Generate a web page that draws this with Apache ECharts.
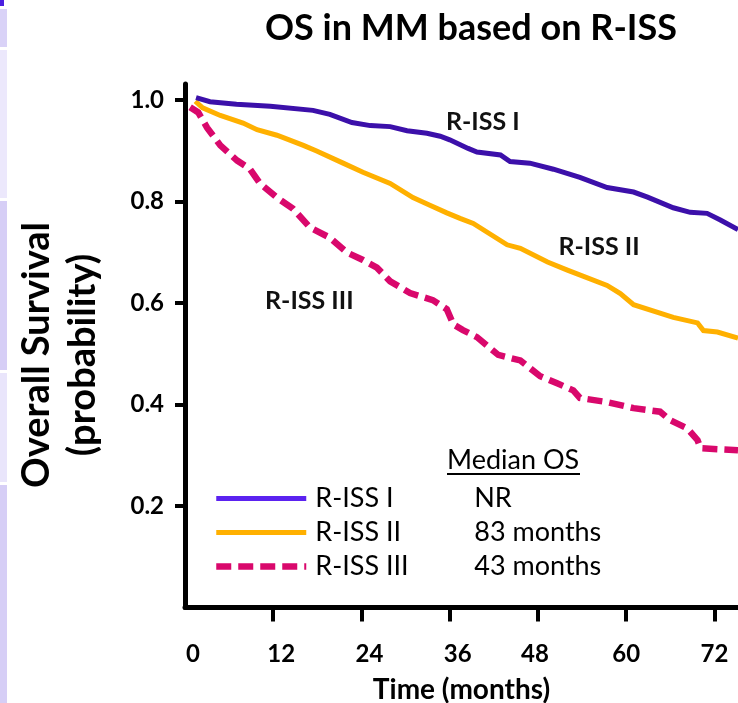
<!DOCTYPE html>
<html>
<head>
<meta charset="utf-8">
<script src="https://cdn.jsdelivr.net/npm/echarts@6/dist/echarts.min.js"></script>
<style>
  html, body { margin: 0; padding: 0; background: #fff; }
  #chart { width: 738px; height: 703px; }
</style>
</head>
<body>
<div id="chart"></div>
<script>
// Kaplan-Meier overall survival by R-ISS stage
const groups = ['R-ISS I', 'R-ISS II', 'R-ISS III'];
const medianOS = ['NR', '83 months', '43 months'];

const monthsI = [1.5, 3.4, 7, 11.6, 17.4, 19.7, 22.7, 25.2, 27.9, 30.2, 32.9, 34.7, 36, 38.5, 39.7, 42.9, 44.2, 46.9, 50.1, 53.7, 57.4, 61, 62.9, 66.4, 68.7, 71, 72.8, 75.2];
const survI  = [1.005, 0.997, 0.992, 0.988, 0.980, 0.972, 0.956, 0.950, 0.948, 0.940, 0.935, 0.929, 0.922, 0.905, 0.898, 0.892, 0.879, 0.876, 0.864, 0.848, 0.828, 0.819, 0.809, 0.788, 0.779, 0.777, 0.764, 0.745];

const monthsII = [1.4, 2.4, 4.8, 7.9, 9.8, 12.5, 16.1, 17.9, 21.5, 24.2, 27.9, 31, 33.3, 35.6, 37.4, 39.2, 43.8, 45.6, 49.3, 52, 57.4, 59.2, 61, 66.4, 69.7, 70.5, 72.4, 75.2];
const survII  = [0.998, 0.985, 0.970, 0.955, 0.942, 0.931, 0.911, 0.900, 0.876, 0.858, 0.836, 0.808, 0.793, 0.778, 0.767, 0.757, 0.715, 0.708, 0.681, 0.665, 0.635, 0.619, 0.597, 0.572, 0.561, 0.546, 0.543, 0.531];

const monthsIII = [0.7, 1.8, 3, 4.8, 7.1, 8.8, 10.2, 12.5, 14.7, 17, 19.7, 22, 24.2, 26.1, 27.9, 30.6, 33.7, 35.6, 36.5, 37.8, 39.7, 42.6, 45.6, 48.3, 50.6, 52.8, 53.7, 57.4, 61, 64.6, 66, 68.3, 69.7, 70.1, 75.2];
const survIII  = [0.986, 0.976, 0.946, 0.911, 0.881, 0.865, 0.836, 0.808, 0.786, 0.749, 0.729, 0.700, 0.685, 0.670, 0.643, 0.620, 0.606, 0.588, 0.558, 0.547, 0.533, 0.498, 0.487, 0.456, 0.442, 0.428, 0.413, 0.405, 0.393, 0.386, 0.369, 0.353, 0.330, 0.314, 0.310];

const xTicks = [0, 12, 24, 36, 48, 60, 72];
const yTicks = [0.2, 0.4, 0.6, 0.8, 1.0];

// curve label anchors [month, survival]
const labelAnchors = [[40.5, 0.957], [56.3, 0.710], [16.9, 0.604]];

const colors = ['#3c10aa', '#ffb000', '#d9086c'];
const legendColors = ['#5b22f0', '#ffb000', '#d9086c'];
const lineWidths = [5, 5, 6.5];
const lineTypes = ['solid', 'solid', [15, 7]];
const FONT = 'Lato';

function pairs(xs, ys) { return xs.map((x, i) => [x, ys[i]]); }
const curves = [pairs(monthsI, survI), pairs(monthsII, survII), pairs(monthsIII, survIII)];

const chart = echarts.init(document.getElementById('chart'), null, { renderer: 'canvas' });

const series = groups.map((g, i) => ({
  name: g,
  type: 'line',
  data: curves[i],
  showSymbol: false,
  symbol: 'none',
  smooth: false,
  z: 5 - i,
  lineStyle: {
    color: colors[i],
    width: lineWidths[i],
    type: lineTypes[i],
    cap: 'butt',
    join: 'miter'
  },
  markPoint: {
    symbol: 'circle',
    symbolSize: 0,
    silent: true,
    data: [{ coord: labelAnchors[i], value: g }],
    label: {
      show: true,
      position: 'inside',
      formatter: g,
      color: '#111',
      fontFamily: FONT,
      fontWeight: 'bold',
      fontSize: 25
    }
  }
}));

// label nudges for hand-placed tick text
const xLabelShift = { 0: 'r', 12: 'r', 24: 'r', 36: 'r', 48: 'l', 60: 'c', 72: 'c' };
const tickFont = { fontFamily: FONT, fontWeight: 'bold', fontSize: 24, color: '#000' };

const option = {
  animation: false,
  backgroundColor: '#fff',
  title: {
    text: 'OS in MM based on R-ISS',
    left: 466,
    top: 5,
    textAlign: 'center',
    textStyle: { fontFamily: FONT, fontWeight: 'bold', fontSize: 36, color: '#000' }
  },
  grid: { left: 185, right: 0, top: 84, bottom: 95.5, containLabel: false, outerBoundsMode: 'none' },
  xAxis: {
    type: 'value',
    min: 0,
    max: 75.2,
    name: 'Time (months)',
    nameLocation: 'middle',
    nameGap: 68,
    nameTextStyle: { fontFamily: FONT, fontWeight: 'bold', fontSize: 28, color: '#000' },
    splitLine: { show: false },
    axisLine: { show: true, onZero: false, lineStyle: { color: '#000', width: 5 } },
    axisTick: { show: true, length: 14, lineStyle: { color: '#000', width: 4 }, customValues: xTicks.filter(v => v > 0) },
    axisLabel: {
      margin: 35,
      customValues: xTicks,
      formatter: v => '{' + xLabelShift[v] + '|' + v + '}',
      rich: {
        r: Object.assign({ padding: [0, 0, 0, 16] }, tickFont),
        l: Object.assign({ padding: [0, 6, 0, 0] }, tickFont),
        c: Object.assign({}, tickFont)
      }
    }
  },
  yAxis: {
    type: 'value',
    min: 0,
    max: 1.032,
    splitLine: { show: false },
    axisLine: { show: true, onZero: false, lineStyle: { color: '#000', width: 5 } },
    axisTick: { show: true, length: 10, lineStyle: { color: '#000', width: 4 }, customValues: yTicks },
    axisLabel: Object.assign({
      margin: 21,
      customValues: yTicks,
      formatter: v => v.toFixed(1)
    }, tickFont)
  },
  legend: {
    orient: 'vertical',
    left: 208,
    top: 480,
    itemWidth: 90,
    itemHeight: 8,
    itemGap: 7,
    selectedMode: false,
    data: groups.map((g, i) => ({
      name: g,
      itemStyle: { opacity: 0 },
      lineStyle: { color: legendColors[i], width: lineWidths[i], type: lineTypes[i] }
    })),
    formatter: name => '{n|' + name + '}{m|' + medianOS[groups.indexOf(name)] + '}',
    textStyle: {
      padding: [0, 0, 0, 4],
      rich: {
        n: { fontFamily: FONT, fontSize: 27, color: '#000', width: 159, lineHeight: 31 },
        m: { fontFamily: FONT, fontSize: 27, color: '#000', lineHeight: 31 }
      }
    }
  },
  graphic: [
    // slide edge strip
    { type: 'rect', left: 0, top: 0, shape: { width: 4, height: 6 }, style: { fill: '#4b1fe0' }, silent: true },
    { type: 'rect', left: 0, top: 9, shape: { width: 7, height: 38 }, style: { fill: '#d9d2f7' }, silent: true },
    { type: 'rect', left: 0, top: 50, shape: { width: 7, height: 148 }, style: { fill: '#ece8fc' }, silent: true },
    { type: 'rect', left: 0, top: 201, shape: { width: 7, height: 169 }, style: { fill: '#d6cef6' }, silent: true },
    { type: 'rect', left: 0, top: 373, shape: { width: 7, height: 109 }, style: { fill: '#e9e5fb' }, silent: true },
    { type: 'rect', left: 0, top: 485, shape: { width: 7, height: 218 }, style: { fill: '#d6cef6' }, silent: true },
    // y-axis title, two lines, rotated
    {
      type: 'text',
      x: 60,
      y: 355,
      rotation: Math.PI / 2,
      style: {
        text: 'Overall Survival\n(probability)',
        fontFamily: FONT,
        fontWeight: 'bold',
        fontSize: 38,
        lineHeight: 46,
        fill: '#000',
        align: 'center',
        verticalAlign: 'middle'
      },
      silent: true
    },
    // median OS header
    {
      type: 'text',
      x: 447,
      y: 460,
      style: { text: 'Median OS', fontFamily: FONT, fontSize: 27, fill: '#000', align: 'left', verticalAlign: 'middle' },
      silent: true
    },
    {
      type: 'line',
      shape: { x1: 447, y1: 474, x2: 580, y2: 474 },
      style: { stroke: '#000', lineWidth: 2 },
      silent: true
    }
  ],
  series: series
};

chart.setOption(option);
</script>
</body>
</html>
